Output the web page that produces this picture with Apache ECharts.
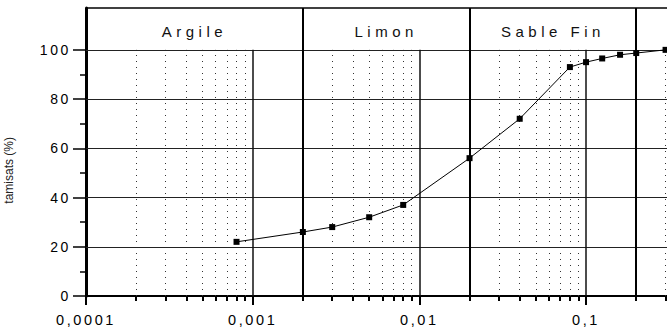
<!DOCTYPE html>
<html><head><meta charset="utf-8">
<script src="https://cdn.jsdelivr.net/npm/echarts@6/dist/echarts.min.js"></script>
<style>html,body{margin:0;padding:0;background:#fff}#c{width:667px;height:327px}</style>
</head><body><div id="c"></div>
<script>
// ---- data ----
const sizes   = [0.0008, 0.002, 0.003, 0.005, 0.008, 0.02, 0.04, 0.08, 0.1, 0.125, 0.16, 0.2, 0.3];
const passing = [22, 26, 28, 32, 37, 56, 72, 93, 95, 96.5, 98, 98.7, 100];
const xMajorTicks = [0.0001, 0.001, 0.01, 0.1];
const xMinorTicks = [0.0002,0.0003,0.0004,0.0005,0.0006,0.0007,0.0008,0.0009,
                     0.002,0.003,0.004,0.005,0.006,0.007,0.008,0.009,
                     0.02,0.03,0.04,0.05,0.06,0.07,0.08,0.09,0.2,0.3];
const yMajorTicks = [0, 20, 40, 60, 80, 100];
const yMinorTicks = [10, 30, 50, 70, 90];
const bandNames = ['Argile', 'Limon', 'Sable Fin'];
const bandEdges = [0.0001, 0.002, 0.02, 0.2];
const classBounds = [0.002, 0.02, 0.2];
const decadeLines = [0.001, 0.01, 0.1];
const dottedLines = [0.0002,0.0003,0.0004,0.0005,0.0006,0.0007,0.0008,0.0009,
                     0.003,0.004,0.005,0.006,0.007,0.008,0.009,
                     0.03,0.04,0.05,0.06,0.07,0.08,0.09,0.3];
const X_MIN = 0.0001, X_MAX = 0.306, Y_MIN = 0, Y_MAX = 117, BAND_BOTTOM = 100;
const yTitle = 'tamisats (%)';

const FONT = 'Liberation Sans';
const chart = echarts.init(document.getElementById('c'), null, {renderer: 'svg'});

function vLines(xs, y0, y1) {
  return xs.map(x => [{coord: [x, y0]}, {coord: [x, y1]}]);
}
function lineSeries(name, data, style, z) {
  return {
    name, type: 'line', data: [], z, silent: true, animation: false,
    markLine: {silent: true, animation: false, symbol: ['none', 'none'],
      label: {show: false}, lineStyle: style, data}
  };
}

const option = {
  animation: false,
  grid: {left: 86, right: 0, top: 8, bottom: 30},
  xAxis: [{
    type: 'log', logBase: 10, min: X_MIN, max: X_MAX, position: 'bottom',
    axisLine: {show: true, onZero: false, lineStyle: {color: '#000', width: 2}},
    axisTick: {show: true, customValues: xMajorTicks, length: 9, inside: false,
      lineStyle: {color: '#000', width: 2}},
    axisLabel: {show: true, customValues: xMajorTicks, margin: 16,
      fontFamily: FONT, fontSize: 14.5, color: '#000',
      formatter: v => String(v).replace('.', ',')},
    splitLine: {show: false}, minorTick: {show: false}
  }, {
    type: 'log', logBase: 10, min: X_MIN, max: X_MAX, position: 'bottom', gridIndex: 0,
    axisLine: {show: false},
    axisTick: {show: true, customValues: xMinorTicks, length: 5,
      lineStyle: {color: '#000', width: 2}},
    axisLabel: {show: false}, splitLine: {show: false}
  }],
  yAxis: [{
    type: 'value', min: Y_MIN, max: Y_MAX, interval: 20,
    axisLine: {show: true, onZero: false, lineStyle: {color: '#000', width: 3}},
    axisTick: {show: true, customValues: yMajorTicks, length: 13,
      lineStyle: {color: '#000', width: 1.5}},
    axisLabel: {show: true, customValues: yMajorTicks, margin: 15,
      fontFamily: FONT, fontSize: 14, color: '#000'},
    splitLine: {show: false}
  }, {
    type: 'value', min: Y_MIN, max: Y_MAX, position: 'left', offset: 0,
    axisLine: {show: false},
    axisTick: {show: true, customValues: yMinorTicks, length: 6,
      lineStyle: {color: '#000', width: 1.5}},
    axisLabel: {show: false}, splitLine: {show: false}
  }],
  graphic: [{
    type: 'text', left: 3, top: 137, rotation: Math.PI / 2,
    style: {text: yTitle, font: '12px "' + FONT + '"', fill: '#222'}
  }],
  series: [
    lineSeries('dotted', vLines(dottedLines, Y_MIN, BAND_BOTTOM),
      {color: '#333', width: 1, type: [1, 5]}, 1),
    {
      name: 'hgrid', type: 'line', data: [], z: 2, silent: true, animation: false,
      markLine: {silent: true, animation: false, symbol: ['none', 'none'], label: {show: false},
        lineStyle: {color: '#222', width: 1, type: 'solid'},
        data: yMajorTicks.slice(1).map(y => [{coord: [X_MIN, y]}, {coord: [X_MAX, y]}])
          .concat([[{coord: [X_MIN, Y_MAX], lineStyle: {width: 1.5, color: '#000'}}, {coord: [X_MAX, Y_MAX]}]])}
    },
    lineSeries('decades', vLines(decadeLines, Y_MIN, BAND_BOTTOM),
      {color: '#111', width: 1.5, type: 'solid'}, 3),
    lineSeries('classes', vLines(classBounds, Y_MIN, Y_MAX),
      {color: '#000', width: 2, type: 'solid'}, 3),
    {
      name: 'bands', type: 'line', data: [], z: 3, silent: true, animation: false,
      markArea: {silent: true, animation: false,
        itemStyle: {color: 'rgba(0,0,0,0)'},
        label: {show: true, position: 'inside', fontFamily: FONT, fontSize: 15,
          color: '#111', offset: [0, 3]},
        data: bandNames.map((n, i) => [{name: n, coord: [bandEdges[i], BAND_BOTTOM]},
                                       {coord: [bandEdges[i + 1], Y_MAX]}])}
    },
    {
      name: 'tamisats', type: 'line', z: 5, animation: false,
      data: sizes.map((s, i) => [s, passing[i]]),
      symbol: 'rect', symbolSize: 6, showSymbol: true,
      itemStyle: {color: '#000'},
      lineStyle: {color: '#000', width: 1}
    }
  ]
};
chart.setOption(option);

function spaceText() {
  const texts = document.querySelectorAll('#c svg text');
  texts.forEach(t => {
    const s = t.textContent.trim();
    let ls = null;
    if (/^[0-9,]+$/.test(s)) ls = '2.6px';
    else if (bandNames.indexOf(s) >= 0) ls = '4.5px';
    if (ls) { t.setAttribute('letter-spacing', ls); t.style.letterSpacing = ls; }
  });
}
chart.on('finished', spaceText);
setTimeout(spaceText, 50);
setTimeout(spaceText, 300);
</script>
</body></html>
